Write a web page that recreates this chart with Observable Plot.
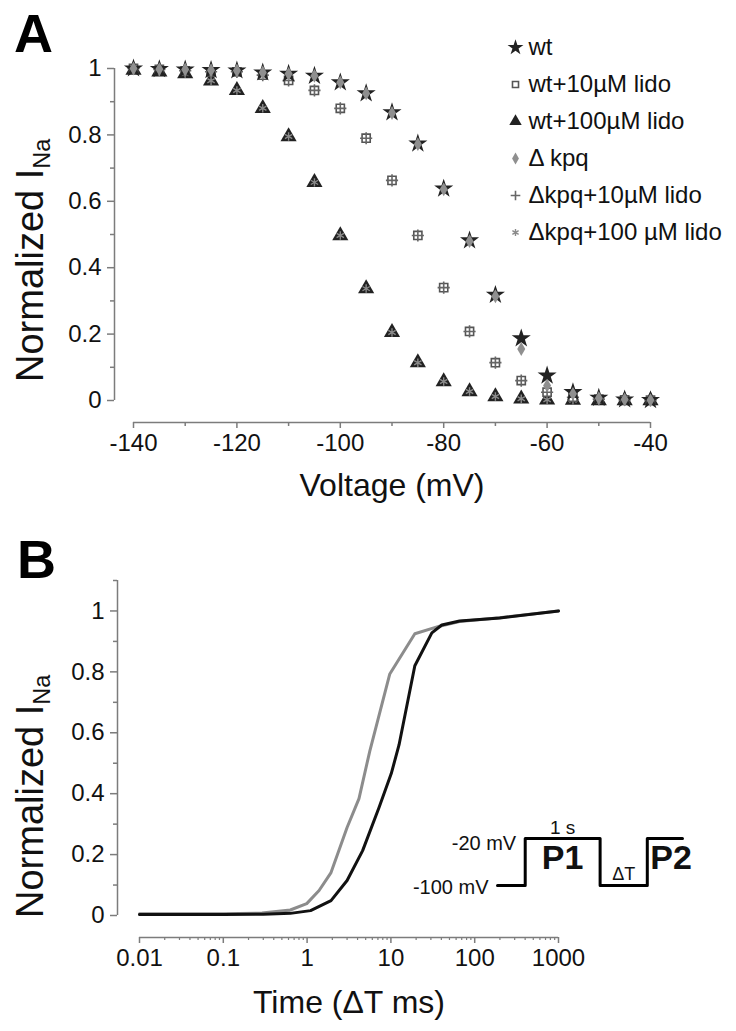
<!DOCTYPE html>
<html>
<head>
<meta charset="utf-8">
<script src="https://cdn.jsdelivr.net/npm/d3@7"></script>
<script src="https://cdn.jsdelivr.net/npm/@observablehq/plot@0.6"></script>
<style>
  body { margin: 0; background: #fff; }
  #wrap { position: relative; width: 736px; height: 1031px; overflow: hidden;
          font-family: "Liberation Sans", Arial, Helvetica, sans-serif; color: #111; }
  .panel { position: absolute; font-weight: bold; font-size: 54px; line-height: 1; color: #000; }
  .ylab { position: absolute; font-size: 38px; line-height: 1; white-space: nowrap;
          transform-origin: 0 0; transform: rotate(-90deg); color: #111; }
  .ylab sub { font-size: 0.62em; vertical-align: -0.3em; line-height: 0; }
</style>
</head>
<body>
<div id="wrap"></div>
<script>
// ---------------- Panel A data ----------------
const voltage = [-140,-135,-130,-125,-120,-115,-110,-105,-100,-95,-90,-85,-80,-75,-70,-65,-60,-55,-50,-45,-40];
const wt          = [1.0,0.998,0.997,0.995,0.994,0.988,0.984,0.978,0.958,0.925,0.868,0.774,0.638,0.482,0.318,0.187,0.075,0.025,0.008,0.003,0.001];
const dkpq        = [1.0,0.998,0.997,0.995,0.994,0.988,0.984,0.978,0.958,0.925,0.866,0.772,0.636,0.480,0.314,0.155,0.045,0.02,0.007,0.003,0.001];
const wtLido10    = [1.0,0.997,0.993,0.99,0.99,0.98,0.964,0.934,0.88,0.79,0.663,0.497,0.34,0.208,0.114,0.06,0.025,0.01,0.004,0.002,0.001];
const dkpqLido10  = [1.0,0.997,0.993,0.99,0.99,0.98,0.964,0.934,0.88,0.79,0.663,0.497,0.34,0.208,0.114,0.06,0.025,0.01,0.004,0.002,0.001];
const wtLido100   = [0.995,0.99,0.985,0.963,0.934,0.88,0.795,0.657,0.497,0.337,0.205,0.114,0.057,0.027,0.012,0.005,0.002,0.001,0,0,0];
const dkpqLido100 = [0.995,0.99,0.985,0.963,0.934,0.88,0.795,0.657,0.497,0.337,0.205,0.114,0.057,0.027,0.012,0.005,0.002,0.001,0,0,0];
const seriesA = ["wt","wt+10µM lido","wt+100µM lido","Δ kpq","Δkpq+10µM lido","Δkpq+100 µM lido"];
const valuesA = [wt, wtLido10, wtLido100, dkpq, dkpqLido10, dkpqLido100];
const xDomainA = [-140, -40];
const yDomainA = [0, 1];
const xTicksA = [-140,-120,-100,-80,-60,-40];
const xMinorA = [-130,-110,-90,-70,-50];
const yTicksA = [0,0.2,0.4,0.6,0.8,1];
const yMinorA = [0.1,0.3,0.5,0.7,0.9];
const xTitleA = "Voltage (mV)";

// ---------------- Panel B data ----------------
const timeGray  = [0.01,0.1,0.29,0.63,0.99,1.39,1.93,3.0,4.16,5.6,9.7,19.3,38,66,199,1000];
const inaGray   = [0.006,0.006,0.008,0.018,0.039,0.082,0.141,0.289,0.384,0.54,0.793,0.925,0.95,0.965,0.978,1.0];
const timeBlack = [0.01,0.1,0.3,0.63,1.1,1.93,3.0,4.6,7.2,10.1,12.5,19.3,30.8,40.5,66,199,1000];
const inaBlack  = [0.003,0.003,0.004,0.007,0.016,0.049,0.115,0.213,0.354,0.466,0.56,0.82,0.928,0.954,0.967,0.977,1.0];
const xDomainB = [0.01, 1000];
const yDomainB = [0, 1.1];
const xTicksB = [0.01,0.1,1,10,100,1000];
const yTicksB = [0,0.2,0.4,0.6,0.8,1];
const yMinorB = [0.1,0.3,0.5,0.7,0.9,1.1];
const xTitleB = "Time (ΔT ms)";

// protocol inset (schematic)
const protoTime    = [0, 0.37, 1.37, 2.0, 2.47];
const protoVoltage = [-100, -20, -100, -20, -20];

// ---------------- styles ----------------
const FONT = '"Liberation Sans", Arial, Helvetica, sans-serif';
const AX = "#7c7c7c";
const styleA = {
  "wt":               {symbol: "star",     fill: "#222",    stroke: "none", strokeWidth: 1,   r: 6,   lr: 5},
  "wt+10µM lido":     {symbol: "square",   fill: "#fff",    stroke: "#555", strokeWidth: 1.6, r: 4.6, lr: 3.4},
  "wt+100µM lido":    {symbol: "triangle", fill: "#222",    stroke: "none", strokeWidth: 1,   r: 6,   lr: 4.6},
  "Δ kpq":            {symbol: "diamond",  fill: "#8f8f8f", stroke: "none", strokeWidth: 1,   r: 4.2, lr: 3.6},
  "Δkpq+10µM lido":   {symbol: "plus",     fill: "none",    stroke: "#666", strokeWidth: 1.6, r: 4,   lr: 3.2},
  "Δkpq+100 µM lido": {symbol: "asterisk", fill: "none",    stroke: "#8a8a8a", strokeWidth: 1.4, r: 4, lr: 3.4}
};
const drawOrder = ["wt+100µM lido","Δkpq+100 µM lido","wt+10µM lido","Δkpq+10µM lido","wt","Δ kpq"];
const fmt = d => String(+(+d).toFixed(2));

const rowsA = seriesA.flatMap((s, i) => voltage.map((v, j) => ({series: s, voltage: v, value: valuesA[i][j]})));
const rowsB = [
  ...timeGray.map((t, i) => ({series: "gray", time: t, ina: inaGray[i]})),
  ...timeBlack.map((t, i) => ({series: "black", time: t, ina: inaBlack[i]}))
];
const xMinorB = xTicksB.slice(0, -1).flatMap(d => [2,3,4,5,6,7,8,9].map(k => +(k * d).toPrecision(3)));
const protoRows = protoTime.map((t, i) => ({t, v: protoVoltage[i]}));
const protoLabels = [
  {text: "-20 mV",  t: protoTime[1], v: protoVoltage[1], anchor: "end",    dx: -9, dy: 5,   size: 20, weight: "normal"},
  {text: "-100 mV", t: protoTime[0], v: protoVoltage[0], anchor: "end",    dx: -9, dy: 2,   size: 20, weight: "normal"},
  {text: "1 s",     t: (protoTime[1] + protoTime[2]) / 2, v: protoVoltage[1], anchor: "middle", dx: 0, dy: -11, size: 19, weight: "normal"},
  {text: "P1",      t: (protoTime[1] + protoTime[2]) / 2, v: protoVoltage[1], anchor: "middle", dx: 0, dy: 20,  size: 34, weight: "bold"},
  {text: "ΔT",      t: (protoTime[2] + protoTime[3]) / 2, v: protoVoltage[2], anchor: "middle", dx: 0, dy: -11, size: 18, weight: "normal"},
  {text: "P2",      t: protoTime[3], v: protoVoltage[3], anchor: "start",  dx: 3, dy: 20,  size: 34, weight: "bold"}
];

const wrap = document.getElementById("wrap");
function place(node, left, top) {
  node.style.position = "absolute";
  node.style.left = left + "px";
  node.style.top = top + "px";
  wrap.appendChild(node);
  return node;
}
const svgStyle = {fontFamily: FONT, fontSize: "24px", color: "#111", background: "transparent", overflow: "visible"};

// ---------------- Panel A ----------------
const dotsA = drawOrder.map(s => {
  const st = styleA[s];
  return Plot.dot(rowsA.filter(d => d.series === s), {
    x: "voltage", y: "value", symbol: st.symbol, fill: st.fill, stroke: st.stroke,
    strokeWidth: st.strokeWidth, r: st.r
  });
});
const plotA = Plot.plot({
  width: 736, height: 520,
  marginLeft: 133, marginRight: 86, marginTop: 68, marginBottom: 120,
  x: {domain: xDomainA, label: null},
  y: {domain: yDomainA, label: null},
  style: svgStyle,
  marks: [
    Plot.ruleX([xDomainA[0]], {y1: yDomainA[0], y2: yDomainA[1], dx: -19, stroke: AX, strokeWidth: 1.5}),
    Plot.ruleY([yDomainA[0]], {x1: xDomainA[0], x2: xDomainA[1], dy: 22, stroke: AX, strokeWidth: 1.5}),
    Plot.axisY({ticks: yTicksA, tickFormat: fmt, tickSize: 7, tickPadding: 6, dx: -19, stroke: AX, strokeWidth: 1.5, fill: "#111", label: null}),
    Plot.axisY({ticks: yMinorA, tickSize: 4, dx: -19, stroke: AX, strokeWidth: 1.5, fill: "none", label: null}),
    Plot.axisX({ticks: xTicksA, tickFormat: fmt, tickSize: 6, tickPadding: 5, dy: 22, stroke: AX, strokeWidth: 1.5, fill: "#111", label: null}),
    Plot.axisX({ticks: xMinorA, tickSize: 4, dy: 22, stroke: AX, strokeWidth: 1.5, fill: "none", label: null}),
    ...dotsA,
    Plot.text([xTitleA], {text: d => d, frameAnchor: "bottom", dy: 85, fontSize: 32, lineAnchor: "middle", fill: "#111"})
  ]
});
place(plotA, 0, 0);

// legend for panel A
const legendA = Plot.plot({
  width: 231, height: 222,
  marginLeft: 10, marginRight: 0, marginTop: 18.5, marginBottom: 18.5,
  y: {type: "point", domain: seriesA, axis: null, padding: 0},
  style: svgStyle,
  marks: [
    ...seriesA.map(s => {
      const st = styleA[s];
      return Plot.dot([s], {y: d => d, frameAnchor: "left", symbol: st.symbol, fill: st.fill,
        stroke: st.stroke, strokeWidth: st.strokeWidth, r: st.lr});
    }),
    Plot.text(seriesA, {y: d => d, text: d => d, frameAnchor: "left", dx: 13, textAnchor: "start", fontSize: 24, fill: "#111"})
  ]
});
place(legendA, 505, 28);

// ---------------- Panel B ----------------
const plotB = Plot.plot({
  width: 736, height: 511,
  marginLeft: 139, marginRight: 178, marginTop: 60, marginBottom: 116,
  x: {type: "log", domain: xDomainB, label: null},
  y: {domain: yDomainB, label: null},
  style: svgStyle,
  marks: [
    Plot.ruleX([xDomainB[0]], {y1: yDomainB[0], y2: yDomainB[1], dx: -22, stroke: AX, strokeWidth: 1.5}),
    Plot.ruleY([yDomainB[0]], {x1: xDomainB[0], x2: xDomainB[1], dy: 22, stroke: AX, strokeWidth: 1.5}),
    Plot.axisY({ticks: yTicksB, tickFormat: fmt, tickSize: 7, tickPadding: 6, dx: -22, stroke: AX, strokeWidth: 1.5, fill: "#111", label: null}),
    Plot.axisY({ticks: yMinorB, tickSize: 4, dx: -22, stroke: AX, strokeWidth: 1.5, fill: "none", label: null}),
    Plot.axisX({ticks: xTicksB, tickFormat: d3.format("~g"), tickSize: 6, tickPadding: 5, dy: 22, stroke: AX, strokeWidth: 1.5, fill: "#111", label: null}),
    Plot.axisX({ticks: xMinorB, tickSize: 3, dy: 22, stroke: AX, strokeWidth: 1.2, fill: "none", label: null}),
    Plot.line(rowsB.filter(d => d.series === "gray"), {x: "time", y: "ina", stroke: "#8c8c8c", strokeWidth: 3}),
    Plot.line(rowsB.filter(d => d.series === "black"), {x: "time", y: "ina", stroke: "#111", strokeWidth: 3}),
    Plot.text([xTitleB], {text: d => d, frameAnchor: "bottom", dy: 87, fontSize: 32, lineAnchor: "middle", fill: "#111"})
  ]
});
place(plotB, 0, 520);

// protocol inset
const inset = Plot.plot({
  width: 320, height: 100,
  marginLeft: 97, marginRight: 38, marginTop: 38, marginBottom: 15,
  x: {domain: [protoTime[0], protoTime[protoTime.length - 1]], axis: null},
  y: {domain: [d3.min(protoVoltage), d3.max(protoVoltage)], axis: null},
  style: svgStyle,
  marks: [
    Plot.line(protoRows, {x: "t", y: "v", curve: "step-after", stroke: "#000", strokeWidth: 3}),
    ...protoLabels.map(l => Plot.text([l], {x: "t", y: "v", text: "text", textAnchor: l.anchor,
      dx: l.dx, dy: l.dy, fontSize: l.size, fontWeight: l.weight, fill: "#111"}))
  ]
});
place(inset, 400, 800);

// ---------------- HTML labels ----------------
function panelLabel(txt, left, top) {
  const d = document.createElement("div");
  d.className = "panel"; d.textContent = txt;
  place(d, left, top);
}
panelLabel("A", 14, 6);
panelLabel("B", 17, 532);

function yLabel(left, bottom) {
  const d = document.createElement("div");
  d.className = "ylab";
  d.innerHTML = "Normalized I<sub>Na</sub>";
  place(d, left, bottom);
}
yLabel(11, 382);
yLabel(11, 918);
</script>
</body>
</html>
